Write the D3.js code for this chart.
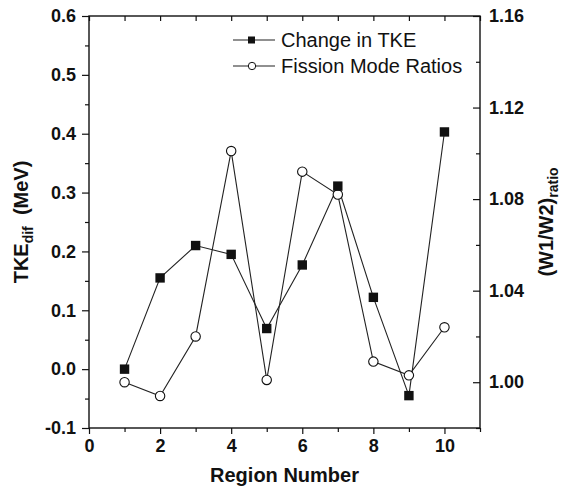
<!DOCTYPE html>
<html>
<head>
<meta charset="utf-8">
<script src="https://cdn.jsdelivr.net/npm/d3@7"></script>
<style>
  body { margin: 0; background: #fff; }
  svg { font-family: "Liberation Sans", Arial, sans-serif; }
  .tick text { font-weight: bold; font-size: 18px; fill: #111; }
  .tick line { stroke: #111; stroke-width: 1.2; }
</style>
</head>
<body>
<div></div>
<script>
// region numbers on the x axis
var regions = [1, 2, 3, 4, 5, 6, 7, 8, 9, 10];
// change in TKE (MeV), left axis
var tkeDif = [0.000, 0.155, 0.210, 0.195, 0.069, 0.177, 0.311, 0.122, -0.045, 0.403];
// fission mode ratios (W1/W2), right axis
var modeRatio = [1.000, 0.994, 1.020, 1.101, 1.001, 1.092, 1.082, 1.009, 1.003, 1.024];

var xTicks = [0, 2, 4, 6, 8, 10];
var xMinor = [1, 3, 5, 7, 9, 11];
var leftTicks = [-0.1, 0.0, 0.1, 0.2, 0.3, 0.4, 0.5, 0.6];
var leftMinor = [-0.05, 0.05, 0.15, 0.25, 0.35, 0.45, 0.55];
var rightTicks = [1.00, 1.04, 1.08, 1.12, 1.16];
var rightMinor = [0.98, 1.02, 1.06, 1.10, 1.14];
var seriesNames = ["Change in TKE", "Fission Mode Ratios"];

var width = 562, height = 489;
var margin = { top: 16, right: 82, bottom: 61, left: 89 };
var w = width - margin.left - margin.right;
var h = height - margin.top - margin.bottom;

var svg = d3.select("div").append("svg").attr("width", width).attr("height", height);
var g = svg.append("g").attr("transform", "translate(" + margin.left + "," + margin.top + ")");

var x = d3.scaleLinear().domain([0, 11]).range([0, w]);
var yL = d3.scaleLinear().domain([-0.1, 0.6]).range([h, 0]);
var yR = d3.scaleLinear().domain([0.98, 1.16]).range([h, 0]);

function clean(sel) { sel.select(".domain").remove(); }

// bottom axis
g.append("g").attr("transform", "translate(0," + h + ")")
  .call(d3.axisBottom(x).tickValues(xTicks).tickSize(6).tickPadding(5).tickFormat(d3.format("d")))
  .call(clean);
g.append("g").attr("transform", "translate(0," + h + ")")
  .call(d3.axisBottom(x).tickValues(xMinor).tickSize(4).tickFormat(""))
  .call(clean);
// top axis, inward ticks
g.append("g")
  .call(d3.axisBottom(x).tickValues(xTicks.concat(xMinor)).tickSize(5).tickFormat(""))
  .call(clean);

// left axis
g.append("g")
  .call(d3.axisLeft(yL).tickValues(leftTicks).tickSize(7).tickPadding(6).tickFormat(function(d) { return d.toFixed(1); }))
  .call(clean);
g.append("g")
  .call(d3.axisLeft(yL).tickValues(leftMinor).tickSize(4).tickFormat(""))
  .call(clean);

// right axis, inward ticks
g.append("g").attr("transform", "translate(" + w + ",0)")
  .call(d3.axisLeft(yR).tickValues(rightTicks).tickSize(7).tickFormat(""))
  .call(clean);
g.append("g").attr("transform", "translate(" + w + ",0)")
  .call(d3.axisLeft(yR).tickValues(rightMinor).tickSize(4).tickFormat(""))
  .call(clean);
g.append("g").attr("transform", "translate(" + w + ",0)")
  .call(d3.axisRight(yR).tickValues(rightTicks).tickSize(0).tickPadding(9).tickFormat(d3.format(".2f")))
  .call(clean);

// frame
g.append("rect").attr("width", w).attr("height", h)
  .attr("fill", "none").attr("stroke", "#111").attr("stroke-width", 1.4);

// lines
var lineL = d3.line().x(function(d, i) { return x(regions[i]); }).y(function(d) { return yL(d); });
var lineR = d3.line().x(function(d, i) { return x(regions[i]); }).y(function(d) { return yR(d); });

g.append("path").datum(modeRatio).attr("d", lineR)
  .attr("fill", "none").attr("stroke", "#222").attr("stroke-width", 1.1);
g.append("path").datum(tkeDif).attr("d", lineL)
  .attr("fill", "none").attr("stroke", "#222").attr("stroke-width", 1.1);

g.selectAll("circle.ratio").data(modeRatio).enter().append("circle")
  .attr("class", "ratio")
  .attr("cx", function(d, i) { return x(regions[i]); })
  .attr("cy", function(d) { return yR(d); })
  .attr("r", 4.7)
  .attr("fill", "#fff").attr("stroke", "#111").attr("stroke-width", 1.1);

g.selectAll("rect.tke").data(tkeDif).enter().append("rect")
  .attr("class", "tke")
  .attr("x", function(d, i) { return x(regions[i]) - 4.7; })
  .attr("y", function(d) { return yL(d) - 4.7; })
  .attr("width", 9.4).attr("height", 9.4)
  .attr("fill", "#111");

// legend
var legend = svg.append("g");
seriesNames.forEach(function(name, i) {
  var ly = 40 + i * 26;
  legend.append("line").attr("x1", 233).attr("x2", 275).attr("y1", ly).attr("y2", ly)
    .attr("stroke", "#222").attr("stroke-width", 1.1);
  if (i === 0) {
    legend.append("rect").attr("x", 248).attr("y", ly - 3.5).attr("width", 7).attr("height", 7).attr("fill", "#111");
  } else {
    legend.append("circle").attr("cx", 252).attr("cy", ly).attr("r", 3.7)
      .attr("fill", "#fff").attr("stroke", "#111").attr("stroke-width", 1);
  }
  legend.append("text").attr("x", 281).attr("y", ly + 7)
    .attr("font-size", 20).attr("fill", "#111").text(name);
});

// axis titles
svg.append("text").attr("x", margin.left + w / 2).attr("y", 482)
  .attr("text-anchor", "middle").attr("font-size", 20).attr("font-weight", "bold").attr("fill", "#111")
  .text("Region Number");

var lt = svg.append("text").attr("transform", "translate(28," + (margin.top + h / 2) + ") rotate(-90)")
  .attr("text-anchor", "middle").attr("font-size", 20).attr("font-weight", "bold").attr("fill", "#111");
lt.append("tspan").text("TKE");
lt.append("tspan").attr("dy", 5).attr("font-size", 14).text("dif");
lt.append("tspan").attr("dy", -5).text("\u00a0\u00a0(MeV)");

var rt = svg.append("text").attr("transform", "translate(553," + (margin.top + h / 2) + ") rotate(-90)")
  .attr("text-anchor", "middle").attr("font-size", 20).attr("font-weight", "bold").attr("fill", "#111");
rt.append("tspan").text("(W1/W2)");
rt.append("tspan").attr("dy", 5).attr("font-size", 14).text("ratio");
</script>
</body>
</html>
